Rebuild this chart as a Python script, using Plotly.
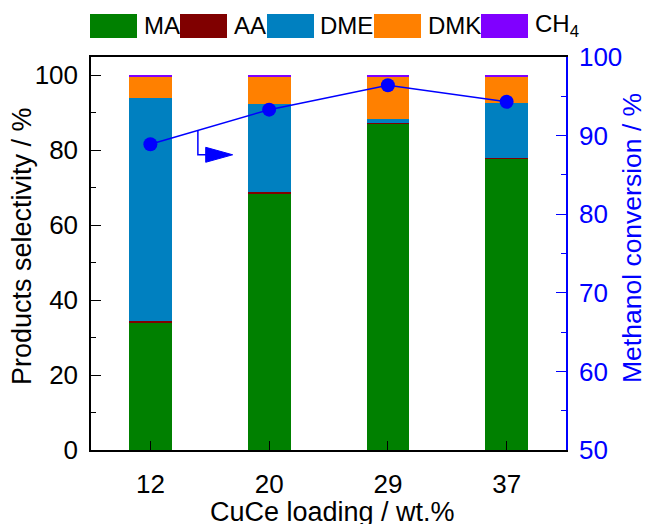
import plotly.graph_objects as go

# ---------------- data ----------------
loadings = ["12", "20", "29", "37"]
ma = [34.1, 68.4, 87.0, 77.7]
aa = [0.3, 0.3, 0.3, 0.3]
dme = [59.6, 23.6, 1.0, 14.6]
dmk = [5.4, 7.2, 11.2, 6.9]
ch4 = [0.6, 0.5, 0.5, 0.5]
conversion = [88.9, 93.3, 96.4, 94.3]

series_names = ["MA", "AA", "DME", "DMK", "CH<sub>4</sub>"]
series_values = [ma, aa, dme, dmk, ch4]
series_colors = ["#008000", "#800000", "#0080C0", "#FF8000", "#8000FF"]

x_title = "CuCe loading / wt.%"
y_title = "Products selectivity / %"
y2_title = "Methanol conversion / %"

FONT = "Liberation Sans, Arial, sans-serif"
W, H = 646, 524
L, R, T, B = 91, 80, 57, 74
PW, PH = W - L - R, H - T - B


def px_x(p):
    return (p - L) / PW


def px_y(p):
    return (T + PH - p) / PH


fig = go.Figure()
for name, vals, col in zip(series_names, series_values, series_colors):
    fig.add_trace(go.Bar(x=loadings, y=vals, name=name, width=0.36,
                         marker=dict(color=col, line=dict(width=0)),
                         showlegend=False))

fig.add_trace(go.Scatter(x=loadings, y=conversion, yaxis="y2", mode="lines+markers",
                         line=dict(color="#0000FF", width=1.5),
                         marker=dict(color="#0000FF", size=14),
                         showlegend=False, name="Methanol conversion"))

# arrow pointing to right axis, starting on the conversion line
xa = 0.4
ya = conversion[0] + (conversion[1] - conversion[0]) * xa
yb = ya - 3.1
shapes = [
    dict(type="path", xref="x", yref="y2",
         path=f"M {xa},{ya} L {xa},{yb} L {xa + 0.07},{yb}",
         line=dict(color="#0000FF", width=1.5)),
    dict(type="path", xref="x", yref="y2",
         path=f"M {xa + 0.066},{yb + 0.95} L {xa + 0.293},{yb} L {xa + 0.066},{yb - 0.95} Z",
         line=dict(color="#0000FF", width=1), fillcolor="#0000FF"),
]

# manual legend: colour boxes drawn as annotations (each box sits on top of
# the preceding label, like the reference)
box_left = [89.8, 180.0, 266.6, 373.7, 481.3]
box_w, box_h = 47.3, 23.7
box_top = 14
annotations = []
for name, col, bl in zip(series_names, series_colors, box_left):
    annotations.append(dict(xref="paper", yref="paper", x=px_x(bl), y=px_y(box_top),
                            xanchor="left", yanchor="top", text=" ", showarrow=False,
                            width=box_w, height=box_h, bgcolor=col, borderpad=0,
                            borderwidth=0, font=dict(size=4)))
    annotations.append(dict(xref="paper", yref="paper", x=px_x(bl + box_w + 5.5),
                            y=px_y(26), xanchor="left", yanchor="middle",
                            text=name, showarrow=False, borderpad=0,
                            font=dict(family=FONT, size=24, color="black")))

# axis titles
annotations += [
    dict(xref="paper", yref="paper", x=px_x(332), y=px_y(512), xanchor="center",
         yanchor="middle", text=x_title, showarrow=False,
         font=dict(family=FONT, size=27, color="black")),
    dict(xref="paper", yref="paper", x=px_x(22), y=px_y(246), xanchor="center",
         yanchor="middle", text=y_title, showarrow=False, textangle=-90,
         font=dict(family=FONT, size=27, color="black")),
    dict(xref="paper", yref="paper", x=px_x(632), y=px_y(238), xanchor="center",
         yanchor="middle", text=y2_title, showarrow=False, textangle=-90,
         font=dict(family=FONT, size=26.5, color="#0000FF")),
]

fig.update_layout(
    width=W, height=H,
    margin=dict(l=L, r=R, t=T, b=B),
    paper_bgcolor="white", plot_bgcolor="white",
    barmode="stack", bargap=0.5,
    font=dict(family=FONT, size=26, color="black"),
    shapes=shapes, annotations=annotations,
    xaxis=dict(type="category", range=[-0.5, 3.5], showgrid=False, zeroline=False,
               automargin=False,
               showline=True, linecolor="black", linewidth=1.5, mirror=True,
               ticks="inside", ticklen=9, tickwidth=1.2, tickcolor="black",
               tickfont=dict(size=26), ticklabelstandoff=10),
    yaxis=dict(range=[0, PH / 3.75], dtick=20, tick0=0, showgrid=False, zeroline=False,
               automargin=False,
               showline=True, linecolor="black", linewidth=1.5,
               ticks="inside", ticklen=10, tickwidth=1.2, tickcolor="black",
               minor=dict(ticks="inside", ticklen=5, dtick=10, tickcolor="black", tickwidth=1.2),
               tickfont=dict(size=26), ticklabelstandoff=6),
    yaxis2=dict(overlaying="y", side="right", range=[50, 100], dtick=10, tick0=50,
                showgrid=False, zeroline=False, automargin=False,
                showline=True, linecolor="#0000FF", linewidth=1.5,
                ticks="inside", ticklen=10, tickwidth=1.2, tickcolor="#0000FF",
                minor=dict(ticks="inside", ticklen=5, dtick=5, tickcolor="#0000FF", tickwidth=1.2),
                tickfont=dict(size=26, color="#0000FF"), ticklabelstandoff=6),
)

fig.write_html("out.html")
